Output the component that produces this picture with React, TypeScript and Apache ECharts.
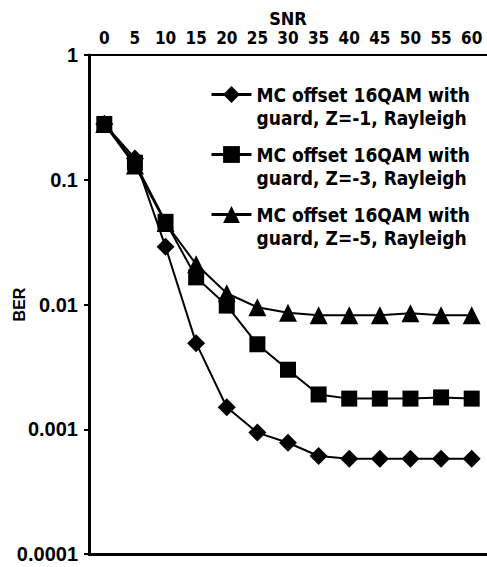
import React, { useEffect, useRef } from "react";
import * as echarts from "echarts";

const snr = ["0", "5", "10", "15", "20", "25", "30", "35", "40", "45", "50", "55", "60"];
const berZ1 = [0.28, 0.148, 0.029, 0.0049, 0.0015, 0.00094, 0.00078, 0.00061, 0.00058, 0.00058, 0.00058, 0.00058, 0.00058];
const berZ3 = [0.28, 0.137, 0.046, 0.0165, 0.0098, 0.0048, 0.003, 0.0019, 0.00176, 0.00176, 0.00176, 0.0018, 0.00176];
const berZ5 = [0.28, 0.13, 0.045, 0.021, 0.0123, 0.0095, 0.0086, 0.0082, 0.0082, 0.0082, 0.0085, 0.0082, 0.0082];
const seriesNames = [
  "MC offset 16QAM with guard, Z=-1, Rayleigh",
  "MC offset 16QAM with guard, Z=-3, Rayleigh",
  "MC offset 16QAM with guard, Z=-5, Rayleigh",
];
const yTicks = ["1", "0.1", "0.01", "0.001", "0.0001"];

export default function App() {
  const ref = useRef<HTMLDivElement>(null);
  useEffect(() => {
    document.body.style.margin = "0";
    const chart = echarts.init(ref.current!, undefined, { renderer: "svg" });
    const font = "DejaVu Sans Condensed";
    const mk = (name: string, data: number[], symbol: string, size: number) => ({
      name,
      type: "line",
      data,
      symbol,
      symbolSize: size,
      showAllSymbol: true,
      lineStyle: { color: "#000", width: 2 },
      itemStyle: { color: "#000" },
    });
    chart.setOption({
      animation: false,
      backgroundColor: "#fff",
      grid: { left: 89, right: 0, top: 55, bottom: 13, containLabel: false },
      xAxis: [
        {
          type: "category",
          position: "top",
          data: snr,
          boundaryGap: true,
          name: "SNR",
          nameLocation: "middle",
          nameGap: 28,
          nameMoveOverlap: false,
          nameTextStyle: {
            color: "#000",
            fontFamily: font,
            fontWeight: "bold",
            fontSize: 18,
            lineHeight: 18,
            verticalAlign: "bottom",
          },
          axisLine: { lineStyle: { color: "#000", width: 2 } },
          axisTick: { inside: true, length: 5, lineStyle: { color: "#000", width: 2 } },
          axisLabel: {
            color: "#000",
            fontFamily: font,
            fontWeight: "bold",
            fontSize: 17,
            lineHeight: 17,
            margin: 9,
            interval: 0,
          },
          splitLine: { show: false },
        },
        {
          type: "category",
          position: "bottom",
          data: snr,
          axisLine: { lineStyle: { color: "#000", width: 3 } },
          axisTick: { show: false },
          axisLabel: { show: false },
        },
      ],
      yAxis: {
        type: "log",
        logBase: 10,
        min: 0.0001,
        max: 1,
        name: "BER",
        nameLocation: "middle",
        nameGap: 62,
        nameMoveOverlap: false,
        nameTextStyle: { color: "#000", fontFamily: "Liberation Sans", fontWeight: "bold", fontSize: 16 },
        axisLine: { show: true, lineStyle: { color: "#000", width: 3 } },
        axisTick: { show: true, length: 5, lineStyle: { color: "#000", width: 2 } },
        axisLabel: {
          color: "#000",
          fontFamily: "Liberation Sans",
          fontWeight: "bold",
          fontSize: 20,
          margin: 11,
          formatter: (v: number) => {
            const e = Math.round(-Math.log10(v));
            return yTicks[e] ?? "";
          },
        },
        splitLine: { show: false },
        minorTick: { show: false },
      },
      legend: {
        orient: "vertical",
        left: 205,
        top: 55,
        itemWidth: 40,
        itemHeight: 21,
        itemGap: -9,
        data: seriesNames,
        lineStyle: { width: 3 },
        formatter: (n: string) => "\n" + n.replace(" guard", "\nguard"),
        textStyle: {
          color: "#000",
          fontFamily: font,
          fontWeight: "bold",
          fontSize: 19,
          lineHeight: 23,
        },
      },
      series: [
        mk(seriesNames[0], berZ1, "diamond", 18),
        mk(seriesNames[1], berZ3, "rect", 16),
        mk(seriesNames[2], berZ5, "triangle", 18),
      ],
    });
    return () => chart.dispose();
  }, []);
  return <div ref={ref} style={{ width: 487, height: 567 }} />;
}
